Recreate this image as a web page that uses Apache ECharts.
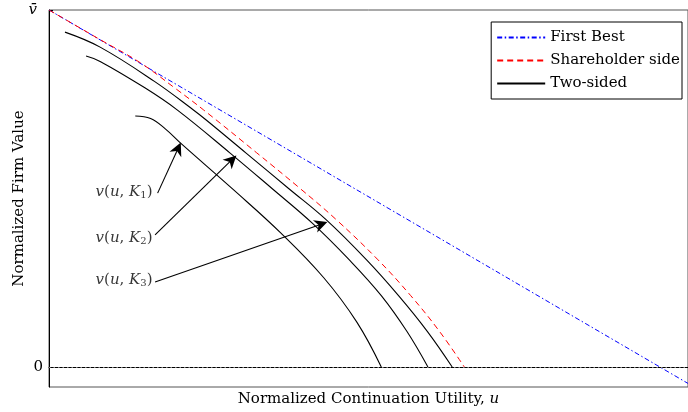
<!DOCTYPE html>
<html>
<head>
<meta charset="utf-8">
<script src="https://cdn.jsdelivr.net/npm/echarts@6/dist/echarts.min.js"></script>
<style>
  html, body { margin: 0; padding: 0; background: #fff; }
  #chart { width: 688px; height: 412px; }
</style>
</head>
<body>
<div id="chart"></div>
<script>
// Normalized continuation utility u (x) against normalized firm value v (y), v̄ = 1
const firstBest = [[0, 1], [1, -0.046]];
const shareholderSide = [[0, 1], [0.080, 0.917], [0.143, 0.852], [0.198, 0.780], [0.242, 0.720],
  [0.325, 0.600], [0.393, 0.500], [0.450, 0.412], [0.515, 0.300], [0.566, 0.200], [0.611, 0.100], [0.650, 0]];
const twoSidedK3 = [[0.025, 0.938], [0.080, 0.896], [0.165, 0.800], [0.226, 0.720], [0.246, 0.692],
  [0.308, 0.600], [0.375, 0.500], [0.434, 0.412], [0.497, 0.300], [0.547, 0.200], [0.592, 0.100], [0.631, 0]];
const twoSidedK2 = [[0.058, 0.871], [0.080, 0.856], [0.150, 0.782], [0.200, 0.721], [0.283, 0.600],
  [0.349, 0.500], [0.412, 0.403], [0.470, 0.300], [0.520, 0.200], [0.560, 0.100], [0.593, 0]];
const twoSidedK1 = [[0.135, 0.703], [0.159, 0.696], [0.182, 0.667], [0.206, 0.627], [0.289, 0.496],
  [0.363, 0.375], [0.430, 0.250], [0.482, 0.125], [0.520, 0]];

// curve labels: text anchor, arrow tail, arrow tip (data coordinates)
const curveLabels = ['1', '2', '3'];
const labelAnchors = [[0.162, 0.490], [0.162, 0.361], [0.162, 0.244]];
const arrowTails = [[0.170, 0.487], [0.166, 0.370], [0.166, 0.238]];
const arrowTips = [[0.202, 0.612], [0.286, 0.580], [0.426, 0.400]];

const yTickValues = [0, 1];

const SERIF = "'DejaVu Serif', 'Liberation Serif', serif";
const FS = 15;

const chart = echarts.init(document.getElementById('chart'), null, { renderer: 'canvas' });

const curveStyle = { color: '#000', width: 1.1 };
const arrowHead = 'path://M5,0 L10,14 L5,10 L0,14 Z';
const SMOOTH = 0.4;

chart.setOption({
  animation: false,
  backgroundColor: '#fff',
  grid: {
    left: 49, right: 0, top: 10, bottom: 25,
    outerBoundsMode: 'none', containLabel: false,
    show: true, borderColor: '#555', borderWidth: 1
  },
  legend: {
    orient: 'vertical',
    top: 22, right: 6,
    padding: [8, 2, 8, 5],
    itemWidth: 48, itemHeight: 14, itemGap: 8,
    borderColor: '#000', borderWidth: 1, borderRadius: 0,
    backgroundColor: '#fff',
    itemStyle: { opacity: 0 },
    textStyle: { fontFamily: SERIF, fontSize: FS, color: '#000' },
    data: ['First Best', 'Shareholder side', 'Two-sided']
  },
  xAxis: {
    type: 'value', min: 0, max: 1,
    name: 'Normalized Continuation Utility, {i|u}',
    nameLocation: 'middle', nameGap: 5, nameMoveOverlap: false,
    nameTextStyle: {
      fontFamily: SERIF, fontSize: FS, color: '#000', verticalAlign: 'top',
      rich: { i: { fontFamily: SERIF, fontSize: FS, fontStyle: 'italic', color: '#000' } }
    },
    axisLine: { show: true, lineStyle: { color: '#000', width: 1 } },
    axisTick: { show: false }, axisLabel: { show: false }, splitLine: { show: false }
  },
  yAxis: {
    type: 'value', min: -0.056, max: 1,
    name: 'Normalized Firm Value',
    nameLocation: 'middle', nameGap: 22, nameRotate: 90, nameMoveOverlap: false,
    nameTextStyle: { fontFamily: SERIF, fontSize: FS, color: '#000' },
    axisLine: { show: true, lineStyle: { color: '#000', width: 1 } },
    axisTick: { show: true, inside: true, length: 4, customValues: yTickValues, lineStyle: { color: '#000' } },
    axisLabel: {
      customValues: yTickValues, margin: 6,
      fontFamily: SERIF, fontSize: FS, color: '#000',
      formatter: v => (v === 1 ? '{i|v\u0304}' : '0'),
      rich: { i: { fontFamily: SERIF, fontSize: FS, fontStyle: 'italic', color: '#000', padding: [0, 6, 0, 0] } }
    },
    splitLine: { show: false }
  },
  series: [
    {
      name: 'First Best', type: 'line', data: firstBest, showSymbol: false, symbol: 'none',
      lineStyle: { color: '#0000ff', width: 1, type: [5, 2.5, 1.5, 2.5] },
      itemStyle: { color: '#0000ff' },
      z: 3,
      markLine: {
        silent: true, symbol: 'none', animation: false,
        label: { show: false },
        lineStyle: { color: '#888', width: 1, type: [1.5, 3] },
        data: [{ yAxis: 0 }]
      }
    },
    {
      name: 'Shareholder side', type: 'line', data: shareholderSide, showSymbol: false, symbol: 'none',
      smooth: SMOOTH,
      lineStyle: { color: '#ff0000', width: 1, type: [6, 4] },
      itemStyle: { color: '#ff0000' },
      z: 3
    },
    {
      name: 'Two-sided', type: 'line', data: twoSidedK3, showSymbol: false, symbol: 'none',
      smooth: SMOOTH, lineStyle: curveStyle, itemStyle: { color: '#000' }
    },
    {
      name: 'Two-sided', type: 'line', data: twoSidedK2, showSymbol: false, symbol: 'none',
      smooth: SMOOTH, lineStyle: curveStyle, itemStyle: { color: '#000' }
    },
    {
      name: 'Two-sided', type: 'line', data: twoSidedK1, showSymbol: false, symbol: 'none',
      smooth: SMOOTH, lineStyle: curveStyle, itemStyle: { color: '#000' },
      markLine: {
        silent: true, animation: false,
        symbol: ['none', arrowHead], symbolSize: 13,
        label: { show: false },
        lineStyle: { color: '#000', width: 1.1, type: 'solid' },
        data: arrowTails.map((t, i) => [{ coord: t }, { coord: arrowTips[i] }])
      }
    },
    {
      name: 'labels', type: 'scatter', symbolSize: 0, silent: true,
      data: labelAnchors.map((p, i) => [p[0], p[1], curveLabels[i]]),
      label: {
        show: true, position: 'left', distance: 0,
        formatter: p => '{i|v}{n|(}{i|u}{n|, }{i|K}{s|' + p.data[2] + '}{n|)}',
        rich: {
          i: { fontFamily: SERIF, fontSize: FS, fontStyle: 'italic', color: '#000' },
          n: { fontFamily: SERIF, fontSize: FS, color: '#000' },
          s: { fontFamily: SERIF, fontSize: 10, color: '#000', padding: [7, 0, 0, 0] }
        }
      }
    }
  ]
});
</script>
</body>
</html>
